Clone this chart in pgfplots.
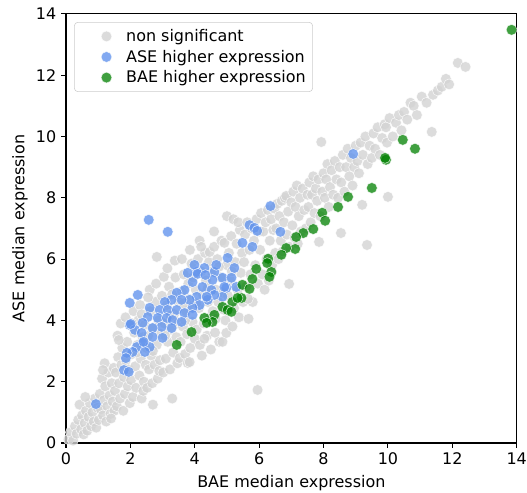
\documentclass[border=0pt]{standalone}
\usepackage{fontspec}
\setmainfont{DejaVu Sans}
\usepackage{pgfplots}
\pgfplotsset{compat=1.18}

\definecolor{cgray}{RGB}{211,211,211}
\definecolor{cblue}{RGB}{100,149,237}
\definecolor{cgreen}{RGB}{0,128,0}
\definecolor{legframe}{RGB}{204,204,204}

\begin{document}
\begin{tikzpicture}
\begin{axis}[
    scale only axis,
    width=324.5pt, height=308.9pt,
    xmin=0, xmax=14, ymin=0, ymax=14,
    xtick={0,2,...,14}, ytick={0,2,...,14},
    tick pos=left, tick align=outside,
    major tick length=3.5pt,
    every tick/.style={black, line width=0.8pt},
    axis line style={line width=0.8pt},
    /pgf/number format/assume math mode=true,
    tick label style={font=\fontsize{11.5}{13.5}\selectfont},
    label style={font=\fontsize{11.5}{13.5}\selectfont},
    xlabel={BAE median expression},
    ylabel={ASE median expression},
    xlabel style={at={(axis description cs:0.5,-0.093)}, anchor=center},
    ylabel style={at={(axis description cs:-0.102,0.5)}, anchor=center},
    legend style={at={(axis description cs:0.018,0.981)}, anchor=north west,
        draw=legframe, rounded corners=2.5pt, fill=white, fill opacity=0.8,
        draw opacity=1, text opacity=1, font=\fontsize{11.5}{13.5}\selectfont,
        inner xsep=3pt, inner ysep=3pt, row sep=0.6pt},
    legend cell align=left,
    legend image code/.code={\draw[#1] plot coordinates {(0.7cm,0cm)}; \path (0cm,0cm) (1.12cm,0cm);},
]
% non significant
\addplot[only marks, mark=*, mark size=3.9pt,
    mark options={draw=white, fill=cgray, line width=0.4pt, opacity=0.8}] coordinates {
(0.08,0.12) (0.15,0.35) (0.22,0.08) (0.28,0.55) (0.33,0.3) (0.38,0.75) (0.42,1.25) (0.47,0.45) (0.5,0.9)
(0.55,0.28) (0.58,0.65) (0.62,1.05) (0.66,0.4) (0.7,0.85) (0.74,1.3) (0.78,0.55) (0.82,1.0) (0.86,0.7) (0.9,1.45) (0.94,0.5) (0.98,1.15) (0.6,1.5)
(1.02,0.75) (1.05,1.6) (1.08,1.1) (1.12,2.1) (1.15,0.9) (1.18,1.4) (1.22,1.85) (1.25,0.7) (1.28,1.2) (1.32,2.3) (1.35,1.55) (1.38,0.95) (1.42,1.95) (1.45,1.35) (1.48,2.45) (1.5,1.05) (1.2,2.6) (1.4,0.8) (1.15,2.38)
(1.52,1.7) (1.55,2.3) (1.58,1.2) (1.62,2.8) (1.65,1.95) (1.68,1.45) (1.72,2.55) (1.75,3.1) (1.78,1.05) (1.8,2.15) (1.83,1.6) (1.86,2.7) (1.9,3.3) (1.92,1.85) (1.95,2.4) (1.98,1.3) (1.6,3.5) (1.7,3.9) (1.85,4.1) (1.64,3.36)
(2.02,2.05) (2.05,2.9) (2.08,1.5) (2.12,3.6) (2.15,2.5) (2.18,1.8) (2.22,3.2) (2.25,4.0) (2.28,2.2) (2.32,2.75) (2.35,1.45) (2.38,3.45) (2.42,2.0) (2.45,3.85) (2.48,2.55) (2.5,3.1) (2.1,4.3) (2.3,4.5) (2.4,1.7) (2.2,2.95) (2.05,3.9) (2.35,4.2)
(2.52,1.8) (2.55,3.5) (2.58,2.4) (2.62,4.3) (2.65,2.85) (2.68,1.95) (2.72,3.75) (2.75,2.55) (2.78,4.6) (2.82,3.2) (2.85,2.1) (2.88,4.0) (2.92,2.7) (2.95,3.55) (2.98,4.8) (2.6,5.0) (2.82,6.07) (2.7,1.25) (2.9,2.35) (2.55,4.75) (2.7,3.0) (2.8,5.2)
(3.02,2.3) (3.04,5.42) (3.06,3.9) (3.1,2.75) (3.13,4.5) (3.16,3.3) (3.2,5.1) (3.23,2.4) (3.26,3.7) (3.3,4.85) (3.33,2.95) (3.36,4.2) (3.4,5.4) (3.43,3.45) (3.46,2.6) (3.5,4.6) (3.3,1.45) (3.15,5.7) (3.38,5.95) (3.48,3.9) (3.08,3.5) (3.25,4.15)
(3.53,2.77) (3.56,3.3) (3.6,4.95) (3.63,3.8) (3.66,5.5) (3.7,2.9) (3.73,4.3) (3.76,3.55) (3.78,2.61) (3.8,5.2) (3.83,4.7) (3.86,3.1) (3.9,5.85) (3.93,3.95) (3.96,4.5) (4.0,3.4) (3.6,6.0) (3.85,6.3) (3.7,4.0) (3.84,2.64) (3.95,5.4) (3.65,4.55)
(4.03,5.0) (4.06,3.7) (4.1,6.0) (4.13,4.4) (4.16,3.2) (4.2,5.6) (4.22,2.85) (4.25,4.85) (4.28,3.9) (4.32,6.2) (4.35,5.3) (4.38,3.5) (4.41,4.6) (4.44,5.9) (4.46,6.23) (4.48,4.1) (4.5,3.05) (4.15,6.6) (4.3,3.4) (4.4,5.05) (4.05,4.55) (4.2,6.4)
(4.53,5.6) (4.56,4.3) (4.6,6.4) (4.63,3.6) (4.66,5.0) (4.7,6.0) (4.73,4.6) (4.76,3.3) (4.8,5.4) (4.83,6.6) (4.86,3.3) (4.88,4.9) (4.92,6.53) (4.95,4.0) (4.98,3.59) (5.0,5.8) (4.6,6.9) (4.75,5.75) (4.9,4.35) (4.65,4.05)
(5.03,4.8) (5.0,7.4) (5.06,6.2) (5.1,5.3) (5.13,6.75) (5.17,3.8) (5.2,7.3) (5.22,4.4) (5.26,5.9) (5.3,6.5) (5.33,5.0) (5.37,4.1) (5.4,6.95) (5.43,5.55) (5.47,6.2) (5.5,4.6) (5.35,7.2) (5.15,5.6)
(5.53,5.9) (5.56,6.8) (5.6,5.1) (5.63,7.2) (5.67,4.05) (5.7,6.3) (5.73,5.5) (5.77,7.0) (5.8,4.6) (5.84,6.6) (5.88,5.8) (5.92,7.3) (5.95,1.73) (5.96,5.2) (6.0,6.9) (5.65,4.7)
(6.03,6.3) (6.06,7.5) (6.1,5.5) (6.13,6.9) (6.17,5.0) (6.2,7.2) (6.23,6.0) (6.27,7.6) (6.3,5.3) (6.33,6.6) (6.37,7.3) (6.4,5.8) (6.44,6.95) (6.47,7.65) (6.5,6.2)
(6.53,7.0) (6.56,7.8) (6.6,6.0) (6.63,7.4) (6.67,6.6) (6.7,7.9) (6.73,6.25) (6.77,7.2) (6.8,8.0) (6.84,8.06) (6.86,6.8) (6.9,7.55) (6.93,5.19) (6.95,6.4) (7.0,7.85)
(7.03,7.1) (7.06,8.2) (7.1,6.7) (7.13,7.7) (7.17,8.4) (7.2,6.5) (7.23,7.4) (7.27,8.0) (7.3,6.9) (7.35,8.3) (7.4,7.6) (7.45,7.0) (7.5,8.1)
(7.53,7.7) (7.56,8.5) (7.6,7.2) (7.64,8.1) (7.68,8.7) (7.72,7.5) (7.76,8.3) (7.8,7.9) (7.84,8.6) (7.86,6.56) (7.9,7.4) (7.93,9.82) (7.96,8.2) (8.0,8.8)
(8.04,8.0) (8.08,8.6) (8.12,9.1) (8.16,7.7) (8.2,8.35) (8.25,8.9) (8.3,8.1) (8.35,9.2) (8.4,8.6) (8.45,8.0) (8.5,9.0) (8.54,6.85)
(8.55,8.5) (8.6,9.4) (8.65,8.2) (8.7,9.0) (8.75,9.6) (8.8,8.7) (8.85,9.3) (8.9,8.4) (8.95,9.0) (9.0,9.7)
(9.05,9.2) (9.1,8.8) (9.15,9.8) (9.2,7.77) (9.22,9.4) (9.3,10.0) (9.35,6.46) (9.37,9.1) (9.43,9.7) (9.5,9.3)
(9.55,10.1) (9.6,9.6) (9.68,10.3) (9.75,9.4) (9.82,9.95) (9.9,10.4) (9.94,10.3) (10.0,8.03) (9.97,9.8)
(10.05,10.6) (10.15,10.0) (10.25,10.45) (10.34,10.7) (10.42,10.2) (10.5,10.8)
(10.6,10.55) (10.7,11.1) (10.8,11.0) (10.9,10.7) (11.05,11.3)
(11.2,11.1) (11.36,10.15) (11.4,11.36) (11.55,11.5) (11.67,11.62) (11.8,11.88) (11.9,11.7)
(12.17,12.4) (12.41,12.27)
};
\addlegendentry{non significant}
% ASE higher expression
\addplot[only marks, mark=*, mark size=3.9pt,
    mark options={draw=white, fill=cblue, line width=0.4pt, opacity=0.8}] coordinates {
(2.57,7.28) (3.16,6.89) (6.35,7.73) (8.92,9.43) (6.66,6.89) (0.93,1.27)
(5.70,7.11) (5.85,7.02) (5.94,6.92) (5.48,6.53) (5.79,6.40) (5.02,6.04) (5.23,5.71)
(4.86,5.39) (5.14,5.39) (4.98,5.06) (4.86,4.77) (4.61,5.58) (4.55,5.32) (4.30,5.71)
(4.06,5.58) (3.93,5.25) (4.24,5.09) (4.52,4.99) (4.61,4.83) (4.06,4.77) (4.40,4.67)
(4.15,4.50) (3.93,4.41) (3.99,5.81) (3.78,5.55) (4.09,5.52) (4.33,5.48) (4.67,5.81)
(3.68,4.99) (3.44,4.90) (4.37,4.77) (3.84,4.67) (3.59,4.67) (3.28,4.67) (3.07,4.60)
(2.23,4.83) (1.98,4.57) (2.60,4.41) (2.91,4.34) (3.16,4.34) (3.44,4.34) (3.68,4.24)
(3.93,4.18) (2.54,4.11) (2.85,4.08) (3.13,4.08) (3.31,4.01) (3.59,3.95) (3.28,3.75)
(2.97,3.79) (2.69,3.75) (2.38,3.92) (1.98,3.85) (2.14,3.69) (2.35,3.59) (2.69,3.46)
(3.00,3.43) (2.38,3.26) (2.60,3.13) (2.20,3.13) (2.07,2.97) (2.45,2.97) (1.89,2.94)
(1.80,2.38) (1.95,2.32) (2.01,3.88) (2.41,3.30) (1.86,2.77) (4.92,5.09) (5.29,5.09)
};
\addlegendentry{ASE higher expression}
% BAE higher expression
\addplot[only marks, mark=*, mark size=3.9pt,
    mark options={draw=white, fill=cgreen, line width=0.4pt, opacity=0.75}] coordinates {
(13.84,13.48) (10.46,9.89) (10.84,9.60) (9.94,9.24) (9.91,9.30) (9.50,8.32)
(8.76,8.03) (8.45,7.70) (7.96,7.51) (8.05,7.25) (7.68,6.98) (7.37,6.85) (7.15,6.72)
(7.12,6.33) (6.84,6.36) (6.69,6.14) (6.28,6.01) (6.25,5.87) (6.38,5.58) (6.32,5.42)
(5.91,5.68) (5.79,5.35) (5.48,5.16) (5.70,5.03) (5.45,4.73) (5.17,4.60) (5.33,4.73)
(4.86,4.44) (5.02,4.34) (4.61,4.18) (4.55,3.95) (4.30,4.08) (4.37,3.92) (3.90,3.62)
(3.44,3.20) (5.14,4.28)
};
\addlegendentry{BAE higher expression}
\end{axis}
\pgfresetboundingbox
\path[use as bounding box] ([xshift=-47.5pt,yshift=-35.3pt]current axis.south west)
    rectangle ([xshift=7.4pt,yshift=10pt]current axis.north east);
\end{tikzpicture}
\end{document}
